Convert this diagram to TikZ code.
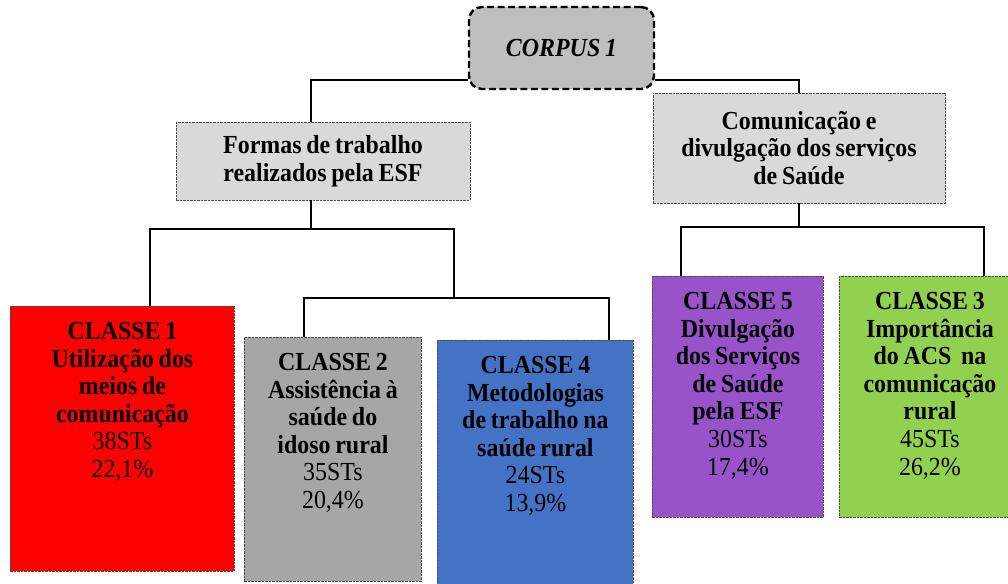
\documentclass[tikz,border=0pt]{standalone}
\usepackage{fontspec}
\setmainfont{Liberation Serif}[FakeStretch=0.92,WordSpace=0.8]
\definecolor{corpusgray}{HTML}{BFBFBF}
\definecolor{temagray}{HTML}{D9D9D9}
\definecolor{classred}{HTML}{FF0000}
\definecolor{classgray}{HTML}{A6A6A6}
\definecolor{classblue}{HTML}{4472C4}
\definecolor{classpurple}{HTML}{9852CA}
\definecolor{classgreen}{HTML}{92D050}

\begin{document}
\begin{tikzpicture}[x=1pt,y=-1pt]
\tikzset{corpus/.style = {shape=rectangle,rounded corners=13pt,draw,line width=2.4pt,dash pattern=on 7pt off 3.5pt,fill=corpusgray,minimum width=185pt,minimum height=82pt,font=\bfseries\itshape\fontsize{26}{27.6}\selectfont}}
\tikzset{tema/.style = {shape=rectangle,draw=black!70,line width=0.9pt,dash pattern=on 2.5pt off 1pt,fill=temagray,align=center,inner sep=0pt,font=\bfseries\fontsize{26}{27.6}\selectfont}}
\tikzset{classe/.style 2 args = {shape=rectangle,anchor=north west,draw=black!70,line width=0.9pt,dash pattern=on 2.5pt off 1pt,inner sep=0pt,align=flush center,text width=#1,text height=33pt,text depth=#2,font=\bfseries\fontsize{26}{27.6}\selectfont}}
\tikzset{link/.style = {draw=black,line width=2pt}}
\useasboundingbox (0,0) rectangle (1008,583);

\node[corpus] (corpus) at (561.5,48) {CORPUS 1};
\node[tema,minimum width=294pt,minimum height=78pt] (formas) at (323,161) {Formas de trabalho\\realizados pela ESF};
\node[tema,minimum width=292pt,minimum height=110pt] (comun) at (799,148) {Comunicação e\\divulgação dos serviços\\de Saúde};

\node[classe={224pt}{232pt},fill=classred] (c1) at (10,306) {CLASSE 1\\Utilização dos\\meios de\\comunicação\\\textmd{38STs}\\\textmd{22,1\%}};
\node[classe={177pt}{211pt},fill=classgray] (c2) at (244,337) {CLASSE 2\\Assistência à\\saúde do\\idoso rural\\\textmd{35STs}\\\textmd{20,4\%}};
\node[classe={196pt}{217pt},fill=classblue] (c4) at (437,340) {CLASSE 4\\Metodologias\\de trabalho na\\saúde rural\\\textmd{24STs}\\\textmd{13,9\%}};
\node[classe={171pt}{208pt},fill=classpurple] (c5) at (652,276) {CLASSE 5\\Divulgação\\dos Serviços\\de Saúde\\pela ESF\\\textmd{30STs}\\\textmd{17,4\%}};
\node[classe={181pt}{208pt},fill=classgreen] (c3) at (839,276) {CLASSE 3\\Importância\\do ACS~ na\\comunicação\\rural\\\textmd{45STs}\\\textmd{26,2\%}};

\coordinate (sub) at (454,298);
\draw[link] ([yshift=10pt]corpus.south west) -| ([xshift=-12pt]formas.north);
\draw[link] ([yshift=10pt]corpus.south east) -| (comun.north);
\draw[link] ([xshift=-12pt]formas.south) -- ++(0,29) coordinate (fj);
\draw[link] ([xshift=28pt]c1.north) |- (fj) -| (sub);
\draw[link] ([xshift=-28.5pt]c2.north) |- (sub) -| ([xshift=74pt]c4.north);
\draw[link] (comun.south) -- ++(0,24) coordinate (cj);
\draw[link] ([xshift=-56.5pt]c5.north) |- (cj) -| ([xshift=54.5pt]c3.north);
\end{tikzpicture}
\end{document}
